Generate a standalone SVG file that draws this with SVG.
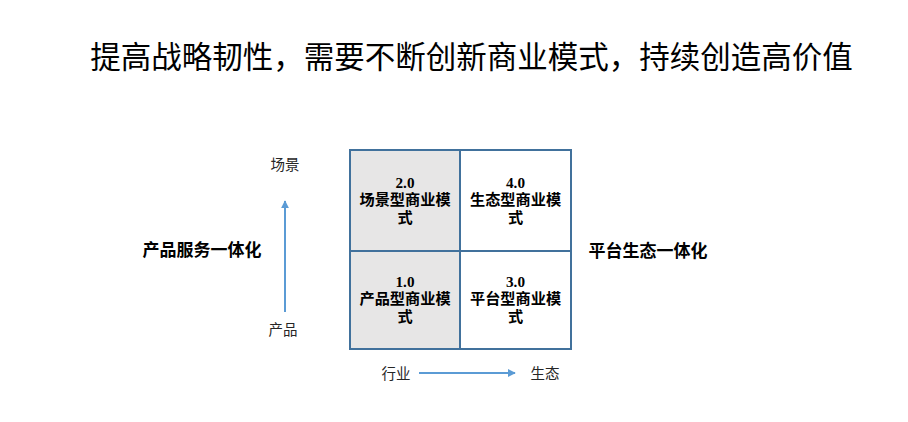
<svg xmlns="http://www.w3.org/2000/svg" width="908" height="422" viewBox="0 0 908 422">
<defs>
<style>
.t{font-family:"Liberation Sans","Noto Sans CJK SC",sans-serif;fill:#000}
.cell{stroke:#41719c;stroke-width:2}
.ct{font-family:"Liberation Serif","Noto Sans CJK SC",serif;font-weight:bold;font-size:15.2px;text-anchor:middle}
.ax{stroke:#5b9bd5;stroke-width:2;fill:none}
.side{font-family:"Noto Sans CJK SC",sans-serif;font-weight:bold;font-size:17px;text-anchor:middle}
.lab{font-family:"Noto Sans CJK SC",sans-serif;font-size:14.5px;text-anchor:middle;fill:#262626}
</style>
<marker id="ah" viewBox="0 0 10 10" refX="9" refY="5" markerWidth="4" markerHeight="4" orient="auto">
<path d="M0,0 L10,5 L0,10 z" fill="#5b9bd5"/>
</marker>
</defs>
<rect width="908" height="422" fill="#fff"/>
<g id="title"><text class="t" x="471.5" y="68" font-size="30.5" text-anchor="middle">提高战略韧性，需要不断创新商业模式，持续创造高价值</text></g>
<g id="cell20"><rect class="cell" x="350" y="150" width="110" height="101" fill="#e7e6e6"/>
<text class="ct" x="405" y="188">2.0</text><text class="ct" x="405" y="205">场景型商业模</text><text class="ct" x="405" y="223">式</text></g>
<g id="cell40"><rect class="cell" x="460" y="150" width="111" height="101" fill="#fff"/>
<text class="ct" x="515.5" y="188">4.0</text><text class="ct" x="515.5" y="205">生态型商业模</text><text class="ct" x="515.5" y="223">式</text></g>
<g id="cell10"><rect class="cell" x="350" y="251" width="110" height="98" fill="#e7e6e6"/>
<text class="ct" x="405" y="287">1.0</text><text class="ct" x="405" y="304">产品型商业模</text><text class="ct" x="405" y="322">式</text></g>
<g id="cell30"><rect class="cell" x="460" y="251" width="111" height="98" fill="#fff"/>
<text class="ct" x="515.5" y="287">3.0</text><text class="ct" x="515.5" y="304">平台型商业模</text><text class="ct" x="515.5" y="322">式</text></g>
<g id="left"><text class="side" x="202" y="256">产品服务一体化</text></g>
<g id="right"><text class="side" x="648" y="257">平台生态一体化</text></g>
<g id="scene"><text class="lab" x="285" y="170">场景</text></g>
<g id="product"><text class="lab" x="283" y="335">产品</text></g>
<g id="industry"><text class="lab" x="396" y="379">行业</text></g>
<g id="eco"><text class="lab" x="545" y="379">生态</text></g>
<g id="connectors">
<line class="ax" x1="285" y1="312" x2="285" y2="201" marker-end="url(#ah)"/>
<line class="ax" x1="419" y1="373" x2="515" y2="373" marker-end="url(#ah)"/>
</g>
</svg>
